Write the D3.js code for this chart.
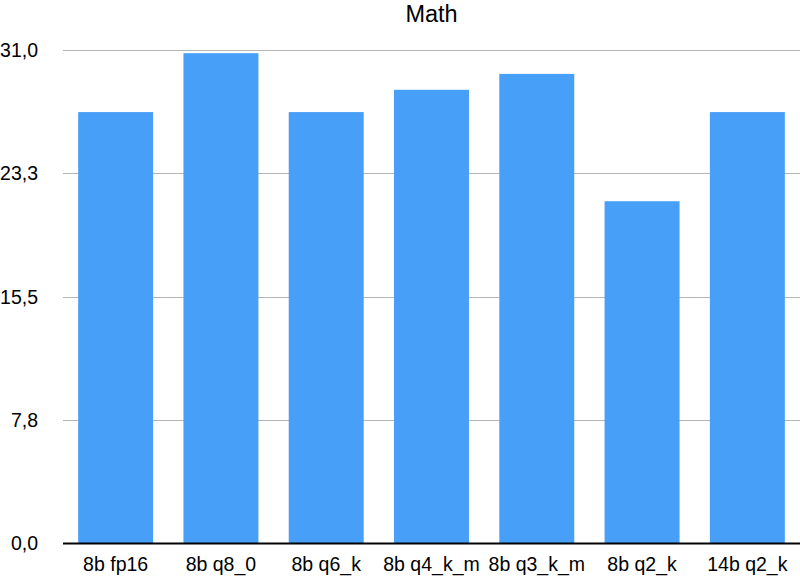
<!DOCTYPE html>
<html><head><meta charset="utf-8">
<script src="https://cdn.jsdelivr.net/npm/d3@7"></script>
<style>html,body{margin:0;padding:0;background:#fff;}</style>
</head><body>
<svg id="c" width="800" height="576"></svg>
<script>
const title = "Math";
const categories = ["8b fp16","8b q8_0","8b q6_k","8b q4_k_m","8b q3_k_m","8b q2_k","14b q2_k"];
const values = [27.1, 30.8, 27.1, 28.5, 29.5, 21.5, 27.1];
const tickValues = [0, 7.75, 15.5, 23.25, 31];
const tickLabels = ["0,0","7,8","15,5","23,3","31,0"];

(function(){
const svg = d3.select("#c");
const font = "'Liberation Sans', Arial, Helvetica, sans-serif";
const mLeft = 63, mRight = 800, mTop = 50, mBottom = 543.5;

const x = d3.scaleBand().domain(categories).range([mLeft, mRight]).paddingInner(0.288).paddingOuter(0.144);
const y = d3.scaleLinear().domain([0, 31]).range([mBottom, mTop]);

svg.append("g").selectAll("line").data(tickValues.filter(v => v > 0)).join("line")
  .attr("x1", mLeft).attr("x2", mRight)
  .attr("y1", d => Math.round(y(d)) + 0.5).attr("y2", d => Math.round(y(d)) + 0.5)
  .attr("stroke", "#b5b5b5").attr("stroke-width", 1);

svg.append("g").selectAll("rect").data(values).join("rect")
  .attr("x", (d, i) => x(categories[i]))
  .attr("width", x.bandwidth())
  .attr("y", d => y(d))
  .attr("height", d => mBottom - y(d))
  .attr("fill", "#479ff8");

svg.append("line").attr("x1", mLeft).attr("x2", mRight)
  .attr("y1", mBottom).attr("y2", mBottom)
  .attr("stroke", "#000").attr("stroke-width", 2);

svg.append("g").selectAll("text").data(tickValues).join("text")
  .attr("x", 38).attr("y", d => y(d))
  .attr("dy", "0.35em")
  .attr("text-anchor", "end")
  .attr("font-family", font).attr("font-size", 19.5).attr("fill", "#000")
  .text((d, i) => tickLabels[i]);

svg.append("g").selectAll("text").data(categories).join("text")
  .attr("x", d => x(d) + x.bandwidth() / 2).attr("y", 571)
  .attr("text-anchor", "middle")
  .attr("font-family", font).attr("font-size", 19.5).attr("fill", "#000")
  .text(d => d);

svg.append("text").attr("x", (mLeft + mRight) / 2).attr("y", 21.5)
  .attr("text-anchor", "middle")
  .attr("font-family", font).attr("font-size", 23.5).attr("fill", "#000")
  .text(title);
})();
</script>
</body></html>
